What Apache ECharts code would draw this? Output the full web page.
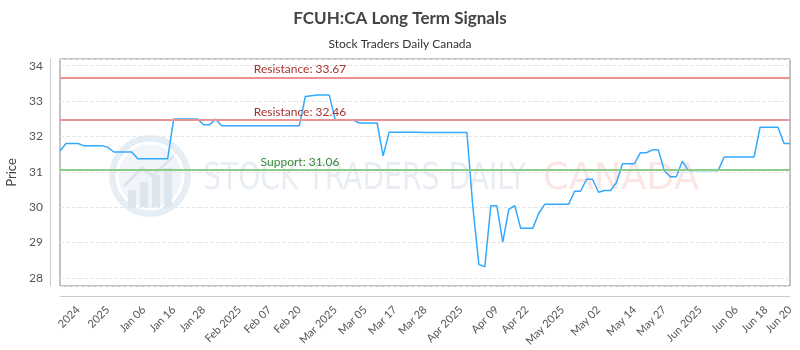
<!DOCTYPE html>
<html><head><meta charset="utf-8">
<script src="https://cdn.jsdelivr.net/npm/echarts@6/dist/echarts.min.js"></script>
<style>html,body{margin:0;padding:0;background:#fff}#c{width:800px;height:350px}</style>
</head><body><div id="c"></div>
<script>
const titleText = 'FCUH:CA Long Term Signals';
const subtitleText = 'Stock Traders Daily Canada';
const yName = 'Price';

const dates = [
'2024-12-24','2024-12-27','2024-12-30','2024-12-31',
'2025-01-02','2025-01-03','2025-01-06','2025-01-07','2025-01-08','2025-01-09','2025-01-10','2025-01-13','2025-01-14','2025-01-15','2025-01-16','2025-01-17','2025-01-20','2025-01-21','2025-01-22','2025-01-23','2025-01-24','2025-01-27','2025-01-28','2025-01-29','2025-01-30','2025-01-31',
'2025-02-03','2025-02-04','2025-02-05','2025-02-06','2025-02-07','2025-02-10','2025-02-11','2025-02-12','2025-02-13','2025-02-14','2025-02-18','2025-02-19','2025-02-20','2025-02-21','2025-02-24','2025-02-25','2025-02-26','2025-02-27','2025-02-28',
'2025-03-03','2025-03-04','2025-03-05','2025-03-06','2025-03-07','2025-03-10','2025-03-11','2025-03-12','2025-03-13','2025-03-14','2025-03-17','2025-03-18','2025-03-19','2025-03-20','2025-03-21','2025-03-24','2025-03-25','2025-03-26','2025-03-27','2025-03-28','2025-03-31',
'2025-04-01','2025-04-02','2025-04-03','2025-04-04','2025-04-07','2025-04-08','2025-04-09','2025-04-10','2025-04-11','2025-04-14','2025-04-15','2025-04-16','2025-04-17','2025-04-21','2025-04-22','2025-04-23','2025-04-24','2025-04-25','2025-04-28','2025-04-29','2025-04-30',
'2025-05-01','2025-05-02','2025-05-05','2025-05-06','2025-05-07','2025-05-08','2025-05-09','2025-05-12','2025-05-13','2025-05-14','2025-05-15','2025-05-16','2025-05-20','2025-05-21','2025-05-22','2025-05-23','2025-05-26','2025-05-27','2025-05-28','2025-05-29','2025-05-30',
'2025-06-02','2025-06-03','2025-06-04','2025-06-05','2025-06-06','2025-06-09','2025-06-10','2025-06-11','2025-06-12','2025-06-13','2025-06-16','2025-06-17','2025-06-18','2025-06-19','2025-06-20'
];

const prices = [
31.59,31.80,31.80,31.80,31.74,31.74,31.74,31.74,31.69,31.56,
31.56,31.56,31.56,31.37,31.37,31.37,31.37,31.37,31.37,32.49,
32.49,32.49,32.49,32.49,32.33,32.33,32.49,32.30,32.30,32.30,
32.30,32.30,32.30,32.30,32.30,32.30,32.30,32.30,32.30,32.30,
32.30,33.13,33.15,33.17,33.17,33.17,32.47,32.47,32.47,32.47,
32.38,32.38,32.38,32.38,31.45,32.12,32.12,32.12,32.12,32.12,
32.12,32.11,32.11,32.11,32.11,32.11,32.11,32.11,32.11,30.00,
28.38,28.31,30.04,30.04,29.01,29.94,30.04,29.40,29.40,29.40,
29.82,30.08,30.08,30.08,30.08,30.08,30.45,30.45,30.79,30.79,
30.42,30.47,30.47,30.70,31.23,31.23,31.23,31.54,31.54,31.62,
31.62,31.03,30.86,30.86,31.30,31.04,31.04,31.04,31.04,31.04,
31.04,31.42,31.42,31.42,31.42,31.42,31.42,32.26,32.26,32.26,
32.26,31.80,31.80
];

const tickIndex = [3,8,14,19,24,30,35,40,46,51,56,61,67,73,78,84,90,96,101,107,113,118,122];
const tickLabels = ['2024','2025','Jan 06','Jan 16','Jan 28','Feb 2025','Feb 07','Feb 20','Mar 2025','Mar 05','Mar 17','Mar 28','Apr 2025','Apr 09','Apr 22','May 2025','May 02','May 14','May 27','Jun 2025','Jun 06','Jun 18','Jun 20'];

const resistanceLevels = [33.67, 32.46];
const supportLevels = [31.06];

const FONT = 'Lato, "Noto Sans", sans-serif';
const ctx = document.createElement('canvas').getContext('2d');
function textW(t, size, weight) { ctx.font = (weight || 'normal') + ' ' + size + 'px ' + FONT; return ctx.measureText(t).width; }

const gridLeft = 60, gridRight = 10, labelCenterX = 300, mlFont = 12;
function mlItem(v, kind) {
  const txt = (kind === 'r' ? 'Resistance: ' : 'Support: ') + v.toFixed(2);
  const w = textW(txt, mlFont);
  return {
    yAxis: v,
    lineStyle: { color: kind === 'r' ? '#ec9393' : '#8ccc8a', width: 2, type: 'solid' },
    label: { show: true, position: 'insideStartTop', formatter: txt, color: kind === 'r' ? '#a83232' : '#3a8a3a',
             fontSize: mlFont, fontFamily: FONT, distance: [labelCenterX - gridLeft - w / 2, 2] }
  };
}
const markData = resistanceLevels.map(v => mlItem(v, 'r')).concat(supportLevels.map(v => mlItem(v, 's')));

const wmFont = '"Liberation Sans Narrow", "DejaVu Sans Condensed", sans-serif';
ctx.font = '38px ' + wmFont;
const w1 = ctx.measureText('STOCK TRADERS DAILY').width;
const w2 = ctx.measureText('CANADA').width;

const chart = echarts.init(document.getElementById('c'), null, { renderer: 'canvas' });
chart.setOption({
  animation: false,
  textStyle: { fontFamily: FONT },
  title: [
    { text: titleText, left: 'center', top: 5, textStyle: { fontSize: 17, fontWeight: 'bold', color: '#444', fontFamily: FONT } },
    { text: subtitleText, left: 'center', top: 33, textStyle: { fontSize: 12, fontWeight: 'normal', color: '#333', fontFamily: FONT } }
  ],
  graphic: [
    { type: 'circle', z: -10, shape: { cx: 150, cy: 176, r: 41 }, style: { fill: '#e6eef5' } },
    { type: 'circle', z: -9, shape: { cx: 150, cy: 176, r: 33 }, style: { fill: '#f1f5f9', stroke: '#ffffff', lineWidth: 3 } },
    { type: 'rect', z: -8, shape: { x: 128, y: 190, width: 8, height: 17 }, style: { fill: '#dde6ee' } },
    { type: 'rect', z: -8, shape: { x: 140, y: 182, width: 8, height: 25 }, style: { fill: '#dde6ee' } },
    { type: 'rect', z: -8, shape: { x: 152, y: 175, width: 8, height: 32 }, style: { fill: '#dde6ee' } },
    { type: 'rect', z: -8, shape: { x: 164, y: 168, width: 8, height: 39 }, style: { fill: '#dde6ee' } },
    { type: 'polyline', z: -8, shape: { points: [[124, 186], [142, 168], [152, 176], [174, 156]] }, style: { stroke: '#dde6ee', lineWidth: 3, fill: null } },
    { type: 'text', z: -8, x: 203, y: 179, scaleX: 323 / w1, style: { text: 'STOCK TRADERS DAILY', font: '38px ' + wmFont, fill: '#e8eef4', verticalAlign: 'middle', align: 'left' } },
    { type: 'text', z: -8, x: 543, y: 179, scaleX: 156 / w2, style: { text: 'CANADA', font: '38px ' + wmFont, fill: '#fbe6e6', verticalAlign: 'middle', align: 'left' } }
  ],
  grid: { show: true, left: gridLeft, right: gridRight, top: 59, bottom: 64, borderColor: '#888', borderWidth: 1,
          backgroundColor: 'transparent', containLabel: false, outerBoundsMode: 'none' },
  xAxis: {
    type: 'category', data: dates, boundaryGap: false, offset: 10,
    axisLine: { show: true, lineStyle: { color: '#ccc' } },
    axisTick: { show: false },
    splitLine: { show: false },
    axisLabel: {
      interval: (i) => tickIndex.indexOf(i) >= 0,
      formatter: (v, i) => tickLabels[tickIndex.indexOf(i)],
      rotate: 45, margin: 12, fontSize: 11, color: '#555', fontFamily: FONT
    }
  },
  yAxis: {
    type: 'value', min: 27.77, max: 34.19, splitNumber: 6, offset: 10,
    name: yName, nameLocation: 'middle', nameGap: 24,
    nameTextStyle: { fontSize: 13, color: '#444', fontFamily: FONT },
    axisLine: { show: true, lineStyle: { color: '#ccc' } },
    axisTick: { show: false },
    axisLabel: { fontSize: 12, color: '#555', margin: 7, showMinLabel: false, showMaxLabel: false, fontFamily: FONT },
    splitLine: { show: true, lineStyle: { color: '#e6e6e6', type: 'dashed' } }
  },
  series: [{
    type: 'line', data: prices, showSymbol: false, symbol: 'none',
    lineStyle: { color: '#33aaff', width: 1.5 }, itemStyle: { color: '#33aaff' },
    markLine: { symbol: ['none', 'none'], silent: true, animation: false, data: markData }
  }]
});
</script></body></html>
